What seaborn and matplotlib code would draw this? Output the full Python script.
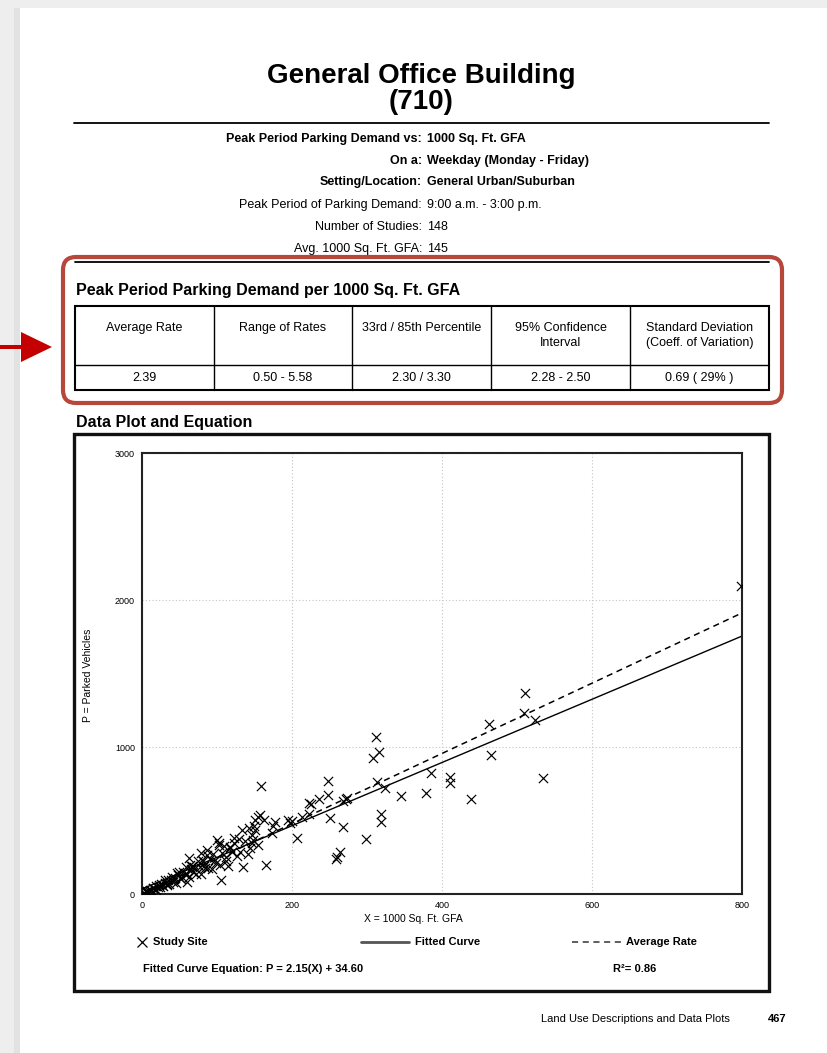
import numpy as np
import pandas as pd
import matplotlib
matplotlib.use("Agg")
import matplotlib.pyplot as plt
import seaborn as sns
from matplotlib import font_manager
from matplotlib.patches import FancyBboxPatch, Rectangle, Polygon

W, H = 827, 1053

# DATA
x_gfa = [798, 510, 509, 524, 462, 465, 535, 439, 312, 316, 308, 313, 324, 345, 378,
         385, 410, 410, 248, 248, 251, 268, 264, 260, 259, 299, 319, 319, 207, 272,
         273, 268, 222, 225, 223, 236, 213, 194, 197, 158, 200, 177, 175, 173, 157,
         155, 162, 151, 149, 146, 148, 144, 133, 135, 165, 105, 112, 122, 117, 100,
         102, 86, 84, 78, 80, 62, 64, 60, 49, 44, 33,
         1, 2, 3, 3, 5, 6, 6, 8, 9, 11, 12, 12, 14, 15, 17, 18, 19, 21, 22, 24,
         25, 27, 28, 30, 31, 33, 35, 36, 38, 40, 41, 43, 45, 47, 48, 50, 52, 55, 57, 58,
         60, 63, 65, 66, 68, 71, 72, 75, 77, 79, 81, 83, 86, 88, 90, 93, 95, 97, 99, 102,
         104, 107, 109, 112, 115, 117, 120, 123, 126, 129, 131, 137, 141, 143, 146, 151, 154]
p_vehicles = [2097, 1364, 1228, 1181, 1155, 947, 790, 646, 1068, 966, 923, 760, 720, 666, 687,
              826, 798, 758, 771, 672, 518, 454, 284, 250, 236, 377, 545, 489, 382, 644,
              656, 633, 622, 613, 545, 645, 526, 504, 485, 732, 499, 493, 463, 413, 538,
              522, 504, 504, 463, 402, 367, 315, 436, 186, 198, 96, 227, 344, 311, 367,
              344, 300, 175, 278, 232, 242, 198, 84, 153, 107, 62,
              3, 4, 9, 7, 11, 17, 19, 15, 22, 29, 22, 27, 42, 38, 37, 30, 52, 50, 63, 49,
              66, 62, 54, 94, 74, 71, 97, 65, 96, 115, 84, 103, 76, 141, 127, 108, 100, 152, 137, 181,
              137, 113, 172, 190, 147, 179, 138, 225, 185, 133, 224, 189, 268, 180, 238, 167, 274, 233, 214, 330,
              200, 282, 327, 255, 193, 323, 288, 384, 257, 372, 283, 362, 271, 446, 350, 435, 333]

fit_slope, fit_intercept = 2.15, 34.60
avg_rate = 2.39
r_squared = 0.86
line_x = [0, 800]
x_ticks = [0, 200, 400, 600, 800]
y_ticks = [0, 1000, 2000, 3000]

info_labels = ["Peak Period Parking Demand vs:", "On a:", "Setting/Location:",
               "Peak Period of Parking Demand:", "Number of Studies:", "Avg. 1000 Sq. Ft. GFA:"]
info_values = ["1000 Sq. Ft. GFA", "Weekday (Monday - Friday)", "General Urban/Suburban",
               "9:00 a.m. - 3:00 p.m.", "148", "145"]
info_bold = [True, True, True, False, False, False]

table_heads = ["Average Rate", "Range of Rates", "33rd / 85th Percentile",
               "95% Confidence\nInterval", "Standard Deviation\n(Coeff. of Variation)"]
table_vals = ["2.39", "0.50 - 5.58", "2.30 / 3.30", "2.28 - 2.50", "0.69 ( 29% )"]

sns.set_style("white")
plt.rcParams['font.family'] = ['Liberation Sans', 'DejaVu Sans']
plt.rcParams['text.color'] = 'black'
plt.rcParams['xtick.color'] = 'black'
plt.rcParams['ytick.color'] = 'black'

# narrow face for the big title if it is there
try:
    font_manager.findfont(font_manager.FontProperties(family="Liberation Sans Narrow", weight="bold"),
                          fallback_to_default=False)
    title_family, title_size = ["Liberation Sans Narrow", "Liberation Sans"], 23
except Exception:
    title_family, title_size = ["Liberation Sans", "DejaVu Sans"], 20

fig = plt.figure(figsize=(W / 100, H / 100), dpi=100, facecolor="#eeeeee")

# page layer in pixel coordinates
page = fig.add_axes([0, 0, 1, 1])
page.set_xlim(0, W)
page.set_ylim(H, 0)
page.axis("off")
page.add_patch(Rectangle((14, 8), 8, H, color="#e2e2e2", lw=0))
page.add_patch(Rectangle((20, 8), W, H, color="white", lw=0))

page.text(421, 76, "General Office Building", ha="center", va="center",
          fontsize=title_size, fontweight="bold", family=title_family)
page.text(421, 102, "(710)", ha="center", va="center",
          fontsize=title_size, fontweight="bold", family=title_family)
page.plot([74, 769], [123, 123], color="black", lw=1.3)

rows_y = [139, 161, 182, 205, 227, 249]
for lab, val, b, y in zip(info_labels, info_values, info_bold, rows_y):
    fw = "bold" if b else "normal"
    page.text(422, y, lab, ha="right", va="center", fontsize=9, fontweight=fw)
    page.text(427, y, val, ha="left", va="center", fontsize=9, fontweight=fw)

# red highlight box + arrow
page.plot([75, 769], [262, 262], color="black", lw=1.3)
page.add_patch(FancyBboxPatch((63, 257), 719, 146,
                              boxstyle="round,pad=0,rounding_size=13",
                              fill=False, ec="#b8473b", lw=3))
page.add_patch(Polygon([(0, 345), (21, 345), (21, 332), (52, 347), (21, 362), (21, 349), (0, 349)],
                       closed=True, color="#c40000", lw=0))

page.text(76, 290, "Peak Period Parking Demand per 1000 Sq. Ft. GFA", ha="left", va="center",
          fontsize=11.5, fontweight="bold")

col_x = [75, 214, 352, 491, 630, 769]
t_top, t_mid, t_bot = 306, 365, 390
page.add_patch(Rectangle((col_x[0], t_top), col_x[-1] - col_x[0], t_bot - t_top,
                         fill=False, ec="black", lw=1.5))
page.plot([col_x[0], col_x[-1]], [t_mid, t_mid], color="black", lw=1)
for cx in col_x[1:-1]:
    page.plot([cx, cx], [t_top, t_bot], color="black", lw=1)
for i, (hd, vl) in enumerate(zip(table_heads, table_vals)):
    xc = (col_x[i] + col_x[i + 1]) / 2
    page.text(xc, 322, hd, ha="center", va="top", fontsize=9, linespacing=1.3)
    page.text(xc, 378, vl, ha="center", va="center", fontsize=9)

page.text(76, 422, "Data Plot and Equation", ha="left", va="center",
          fontsize=11.5, fontweight="bold")
page.add_patch(Rectangle((74, 434), 695, 557, fill=False, ec="#111111", lw=2.4))

# scatter plot
ax = fig.add_axes([142 / W, 1 - 894 / H, 600 / W, 441 / H])
ax.set_facecolor("white")
df = pd.DataFrame({"x": x_gfa, "p": p_vehicles})
lines = pd.DataFrame({"x": line_x})
lines["fit"] = fit_slope * lines["x"] + fit_intercept
lines["avg"] = avg_rate * lines["x"]

sns.scatterplot(data=df, x="x", y="p", ax=ax, marker="x", s=44, color="black",
                linewidth=0.85, zorder=3)
sns.lineplot(data=lines, x="x", y="fit", ax=ax, color="black", lw=1.0, zorder=2)
sns.lineplot(data=lines, x="x", y="avg", ax=ax, color="black", lw=1.1, zorder=2)
ax.lines[-1].set_dashes([4, 3])

ax.set_xlim(0, 800)
ax.set_ylim(0, 3000)
ax.set_xticks(x_ticks)
ax.set_yticks(y_ticks)
ax.tick_params(length=0, labelsize=6.5, pad=5)
ax.grid(True, linestyle=(0, (1, 2)), color="#c4c4c4", lw=0.8)
for sp in ax.spines.values():
    sp.set_color("#222222")
    sp.set_linewidth(1.5)
ax.set_xlabel("")
ax.set_ylabel("")

page.text(413, 919, "X = 1000 Sq. Ft. GFA", ha="center", va="center", fontsize=7.5)
page.text(88, 675, "P = Parked Vehicles", ha="center", va="center", fontsize=7.5, rotation=90)

# legend row
page.plot([142], [942], marker="x", ms=7, mew=0.9, color="black")
page.text(153, 942, "Study Site", ha="left", va="center", fontsize=8, fontweight="bold")
page.plot([361, 409], [942, 942], color="#555555", lw=2)
page.text(415, 942, "Fitted Curve", ha="left", va="center", fontsize=8, fontweight="bold")
page.plot([572, 621], [942, 942], color="#333333", lw=1.1, dashes=[4, 3])
page.text(626, 942, "Average Rate", ha="left", va="center", fontsize=8, fontweight="bold")

page.text(143, 969, f"Fitted Curve Equation: P = {fit_slope:.2f}(X) + {fit_intercept:.2f}",
          ha="left", va="center", fontsize=8, fontweight="bold")
page.text(613, 969, f"R²= {r_squared:.2f}", ha="left", va="center", fontsize=8, fontweight="bold")

# footer
page.text(541, 1019, "Land Use Descriptions and Data Plots", ha="left", va="center", fontsize=8)
page.text(768, 1019, "467", ha="left", va="center", fontsize=8, fontweight="bold")

fig.savefig("out.png", dpi=100, facecolor=fig.get_facecolor())
